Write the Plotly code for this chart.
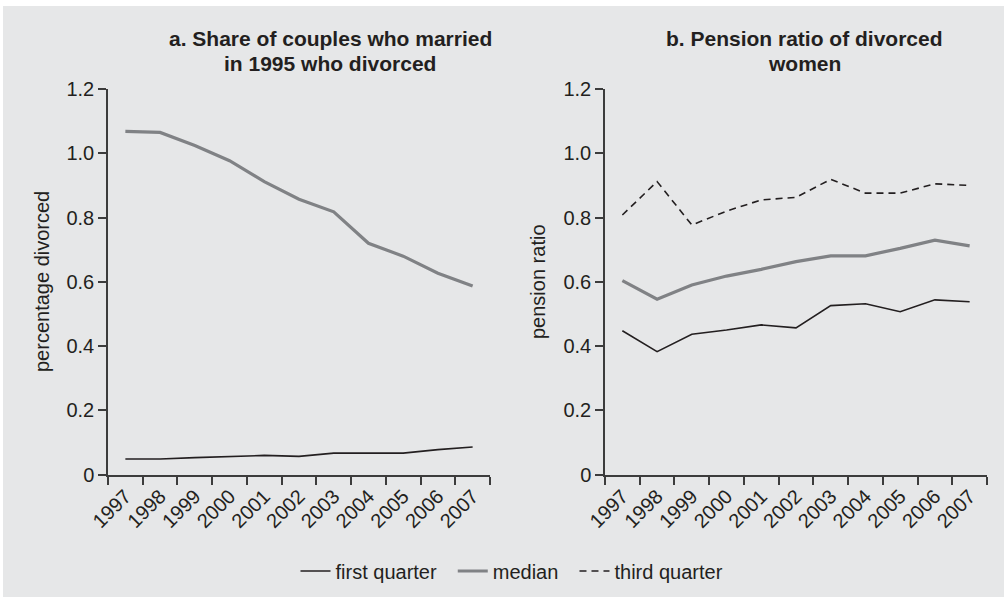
import plotly.graph_objects as go

years = ["1997", "1998", "1999", "2000", "2001", "2002", "2003", "2004", "2005", "2006", "2007"]

# Panel a: share of couples who married in 1995 who divorced
a_first_quarter = [0.049, 0.049, 0.053, 0.056, 0.060, 0.057, 0.067, 0.067, 0.067, 0.078, 0.086]
a_median = [1.068, 1.065, 1.024, 0.977, 0.912, 0.857, 0.818, 0.720, 0.680, 0.627, 0.587]

# Panel b: pension ratio of divorced women
b_first_quarter = [0.448, 0.383, 0.437, 0.450, 0.466, 0.457, 0.526, 0.532, 0.507, 0.544, 0.538]
b_median = [0.604, 0.546, 0.590, 0.618, 0.639, 0.663, 0.681, 0.681, 0.704, 0.730, 0.712]
b_third_quarter = [0.808, 0.912, 0.777, 0.820, 0.855, 0.863, 0.919, 0.876, 0.876, 0.905, 0.900]

y_tickvals = [0, 0.2, 0.4, 0.6, 0.8, 1.0, 1.2]
y_ticktext = ["0", "0.2", "0.4", "0.6", "0.8", "1.0", "1.2"]

title_a = ["a. Share of couples who married", "in 1995 who divorced"]
title_b = ["b. Pension ratio of divorced", "women"]
ytitle_a = "percentage divorced"
ytitle_b = "pension ratio"
legend_names = ["first quarter", "median", "third quarter"]

W, H = 1004, 598
TXT = "#231f20"
AX = "#3c3c3c"
GRAY_LINE = "#808285"
BG = "#e6e7e8"
FONT = "Liberation Sans, Arial, sans-serif"
PAD = "\u00a0\u00a0"

def px_x(p):
    return p / W

def px_y(p):
    return 1 - p / H

fig = go.Figure()

style_fq = dict(color=TXT, width=1.6)
style_md = dict(color=GRAY_LINE, width=3.2)
style_tq = dict(color=TXT, width=1.6, dash="7px,5px")

fig.add_trace(go.Scatter(x=years, y=a_first_quarter, mode="lines", line=style_fq,
                         name=legend_names[0] + PAD, legendrank=1, xaxis="x", yaxis="y"))
fig.add_trace(go.Scatter(x=years, y=a_median, mode="lines", line=style_md,
                         name=legend_names[1] + PAD, legendrank=2, xaxis="x", yaxis="y"))
fig.add_trace(go.Scatter(x=years, y=b_first_quarter, mode="lines", line=style_fq,
                         name=legend_names[0], showlegend=False, xaxis="x2", yaxis="y2"))
fig.add_trace(go.Scatter(x=years, y=b_median, mode="lines", line=style_md,
                         name=legend_names[1], showlegend=False, xaxis="x2", yaxis="y2"))
fig.add_trace(go.Scatter(x=years, y=b_third_quarter, mode="lines", line=style_tq,
                         name=legend_names[2], legendrank=3, xaxis="x2", yaxis="y2"))

ydom = [px_y(474.7), px_y(89)]
xaxis_common = dict(
    type="category", tickson="boundaries", ticks="outside", ticklen=8, tickwidth=1.5,
    tickcolor=AX, showline=True, linecolor=AX, linewidth=2, showgrid=False,
    zeroline=False, tickangle=-45, range=[-0.5, 10.5],
    tickfont=dict(family=FONT, size=20, color=TXT), fixedrange=True,
)
yaxis_common = dict(
    range=[0, 1.2], tickvals=y_tickvals, ticktext=y_ticktext, ticks="outside",
    ticklen=8, tickwidth=1.5, tickcolor=AX, showline=True, linecolor=AX, linewidth=1.5,
    showgrid=False, zeroline=False, tickfont=dict(family=FONT, size=20, color=TXT),
    fixedrange=True,
)

fig.update_layout(
    width=W, height=H,
    margin=dict(l=0, r=0, t=0, b=0, autoexpand=False),
    paper_bgcolor="white", plot_bgcolor="white",
    xaxis=dict(domain=[px_x(108), px_x(490)], anchor="y", **xaxis_common),
    yaxis=dict(domain=ydom, anchor="x", **yaxis_common),
    xaxis2=dict(domain=[px_x(605), px_x(987)], anchor="y2", **xaxis_common),
    yaxis2=dict(domain=ydom, anchor="x2", **yaxis_common),
    legend=dict(orientation="h", x=px_x(512), xanchor="center", y=px_y(571), yanchor="middle",
                bgcolor="rgba(0,0,0,0)", font=dict(family=FONT, size=20, color=TXT),
                traceorder="normal"),
    showlegend=True,
)

fig.add_shape(type="rect", xref="paper", yref="paper",
              x0=px_x(3), x1=1, y0=px_y(597), y1=px_y(6),
              fillcolor=BG, line=dict(width=0), layer="below")

annotations = []
for lines, cx in ((title_a, 330), (title_b, 804)):
    for i, t in enumerate(lines):
        annotations.append(dict(text="<b>" + t + "</b>", x=px_x(cx), y=px_y(39 + 24.5 * i),
                                xref="paper", yref="paper", xanchor="center", yanchor="middle",
                                showarrow=False, font=dict(family=FONT, size=21, color=TXT)))
for t, cx in ((ytitle_a, 42), (ytitle_b, 538)):
    annotations.append(dict(text=t, x=px_x(cx), y=px_y(282), xref="paper", yref="paper",
                            xanchor="center", yanchor="middle", textangle=-90, showarrow=False,
                            font=dict(family=FONT, size=20, color=TXT)))
fig.update_layout(annotations=annotations)

fig.write_html("out.html", config={"displayModeBar": False},
               post_script="document.body.style.margin='0';")
